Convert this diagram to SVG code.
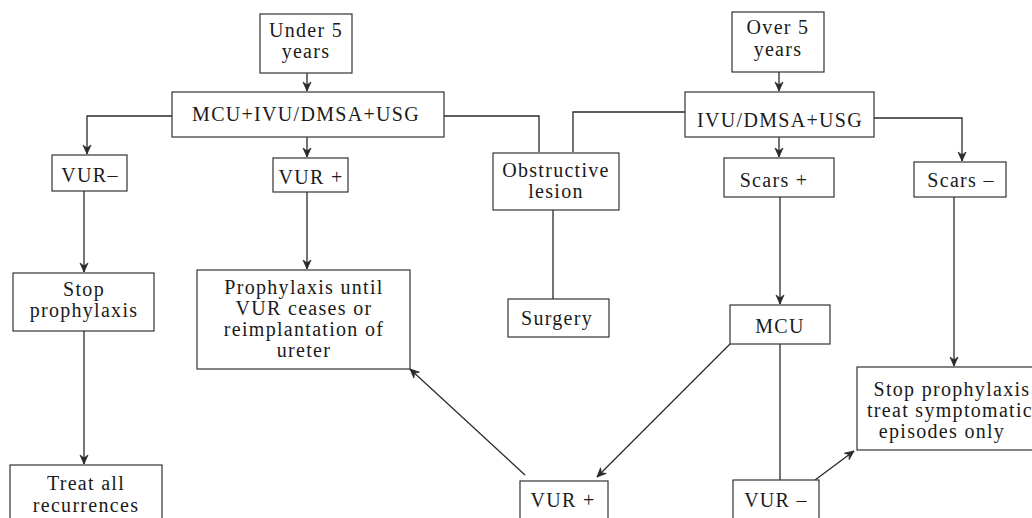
<svg xmlns="http://www.w3.org/2000/svg" width="1032" height="518" viewBox="0 0 1032 518">
<defs>
<style>
.box{fill:#fff;stroke:#333;stroke-width:1.2}
.t{font-family:"Liberation Serif","DejaVu Serif",serif;font-size:20px;fill:#1a1a1a;text-anchor:middle;letter-spacing:1.3px}
.c{fill:none;stroke:#2a2a2a;stroke-width:1.3}
</style>
<marker id="ah" markerUnits="userSpaceOnUse" markerWidth="12" markerHeight="12" refX="10" refY="5" orient="auto">
<path d="M1,1 L10,5 L1,9 L4,5 Z" fill="#2a2a2a" stroke="#2a2a2a" stroke-width="0.8" stroke-linejoin="round"/>
</marker>
</defs>
<rect width="1032" height="518" fill="#fff"/>
<g id="connectors">
<path class="c" d="M307,73 L307,91" marker-end="url(#ah)"/>
<path class="c" d="M172,116 L87,116 L87,154" marker-end="url(#ah)"/>
<path class="c" d="M307,137 L307,157" marker-end="url(#ah)"/>
<path class="c" d="M444,116 L539,116 L539,152"/>
<path class="c" d="M685,112 L573,112 L573,152"/>
<path class="c" d="M779,72 L779,91" marker-end="url(#ah)"/>
<path class="c" d="M779,137 L779,157" marker-end="url(#ah)"/>
<path class="c" d="M874,118 L962,118 L962,161" marker-end="url(#ah)"/>
<path class="c" d="M84,191 L84,272" marker-end="url(#ah)"/>
<path class="c" d="M307,192 L307,269" marker-end="url(#ah)"/>
<path class="c" d="M84,331 L84,464" marker-end="url(#ah)"/>
<path class="c" d="M553,210 L553,299"/>
<path class="c" d="M780,197 L780,304" marker-end="url(#ah)"/>
<path class="c" d="M954,197 L954,366" marker-end="url(#ah)"/>
<path class="c" d="M730,344 L597,477" marker-end="url(#ah)"/>
<path class="c" d="M780,344 L780,480"/>
<path class="c" d="M815,480 L854,451" marker-end="url(#ah)"/>
<path class="c" d="M525,475 L410,369" marker-end="url(#ah)"/>
</g>
<g id="under5"><rect class="box" x="260" y="14" width="92" height="59"/><text class="t" x="306" y="37">Under 5</text><text class="t" x="306" y="58">years</text></g>
<g id="mcu_ivu"><rect class="box" x="172" y="92" width="272" height="45"/><text class="t" x="306" y="121">MCU+IVU/DMSA+USG</text></g>
<g id="vur_minus_l"><rect class="box" x="52" y="155" width="75" height="36"/><text class="t" x="90" y="182">VUR–</text></g>
<g id="vur_plus_l"><rect class="box" x="273" y="158" width="75" height="34"/><text class="t" x="311" y="184">VUR +</text></g>
<g id="obstructive"><rect class="box" x="493" y="153" width="126" height="57"/><text class="t" x="556" y="177">Obstructive</text><text class="t" x="556" y="198">lesion</text></g>
<g id="surgery"><rect class="box" x="508" y="299" width="101" height="38"/><text class="t" x="557" y="325">Surgery</text></g>
<g id="over5"><rect class="box" x="732" y="12" width="92" height="60"/><text class="t" x="778" y="34">Over 5</text><text class="t" x="778" y="56">years</text></g>
<g id="ivu"><rect class="box" x="685" y="92" width="189" height="45"/><text class="t" x="780" y="127">IVU/DMSA+USG</text></g>
<g id="scars_plus"><rect class="box" x="724" y="158" width="110" height="39"/><text class="t" x="774" y="187">Scars +</text></g>
<g id="scars_minus"><rect class="box" x="914" y="162" width="92" height="35"/><text class="t" x="961" y="187">Scars –</text></g>
<g id="stop_l"><rect class="box" x="13" y="273" width="141" height="58"/><text class="t" x="84" y="296">Stop</text><text class="t" x="84" y="317">prophylaxis</text></g>
<g id="prophylaxis"><rect class="box" x="197" y="270" width="213" height="99"/><text class="t" x="304" y="294">Prophylaxis until</text><text class="t" x="304" y="315">VUR ceases or</text><text class="t" x="304" y="336">reimplantation of</text><text class="t" x="304" y="357">ureter</text></g>
<g id="treat"><rect class="box" x="10" y="465" width="152" height="60"/><text class="t" x="86" y="490">Treat all</text><text class="t" x="86" y="512">recurrences</text></g>
<g id="mcu"><rect class="box" x="730" y="305" width="100" height="39"/><text class="t" x="780" y="333">MCU</text></g>
<g id="vur_plus_b"><rect class="box" x="520" y="481" width="88" height="45"/><text class="t" x="563" y="507">VUR +</text></g>
<g id="vur_minus_b"><rect class="box" x="733" y="480" width="86" height="45"/><text class="t" x="776" y="507">VUR –</text></g>
<g id="stop_r"><rect class="box" x="857" y="367" width="190" height="83"/><text class="t" x="952" y="396">Stop prophylaxis</text><text class="t" x="950" y="417">treat symptomatic</text><text class="t" x="942" y="438">episodes only</text></g>
</svg>
